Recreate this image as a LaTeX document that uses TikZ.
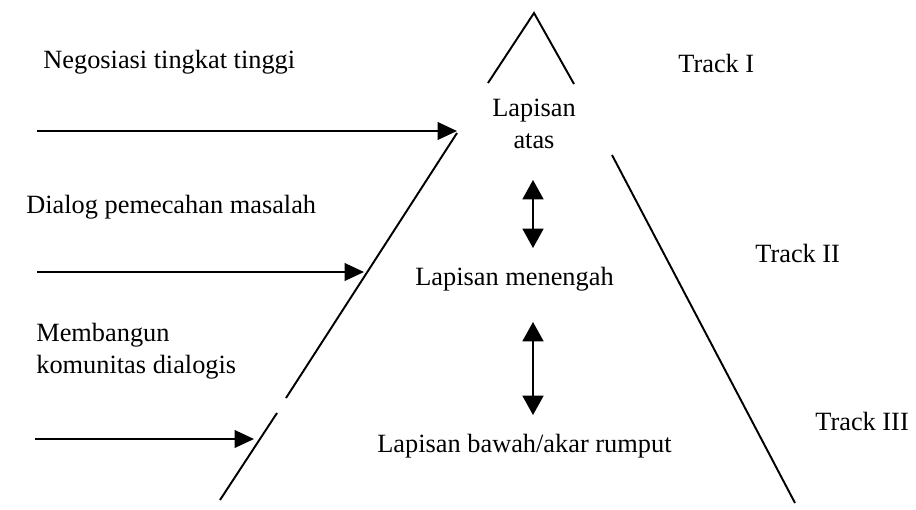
\documentclass[tikz,border=0pt]{standalone}
\usepackage{fontspec}
\setmainfont{Liberation Serif}
\usetikzlibrary{arrows.meta}
\begin{document}
\begin{tikzpicture}[x=0.02cm, y=-0.02cm,
    txt/.style ={inner sep=0pt, font=\fontsize{15}{18}\selectfont},
    side/.style ={line width=1.1pt},
    push/.style ={line width=1.1pt, -{Triangle[length=11pt,width=10pt]}},
    link/.style ={line width=0.7pt, {Triangle[length=11pt,width=12pt]}-{Triangle[length=11pt,width=12pt]}}]
   \useasboundingbox (0,0) rectangle (916,510);
   \coordinate (top) at (534,13);
   \draw[side] (488,83) -- (top) -- (574,84);
   \draw[side] (457,133) -- (286,398);
   \draw[side] (277,413) -- (220,500);
   \draw[side] (612,155) -- (795,503);
   \node[txt, anchor=base west] (neg)  at (43,69)  {Negosiasi tingkat tinggi};
   \node[txt, anchor=base west] (dia)  at (26,213)  {Dialog pemecahan masalah};
   \node[txt, anchor=north west, align=left] (kom)  at (36,323)  {Membangun\\komunitas dialogis};
   \node[txt, anchor=north, align=center] (atas)  at (534,99)  {Lapisan\\atas};
   \node[txt, anchor=base west] (tengah)  at (415,285)  {Lapisan menengah};
   \node[txt, anchor=base west] (bawah)  at (377,452)  {Lapisan bawah/akar rumput};
   \node[txt, anchor=base west] (t1)  at (678,72)  {Track I};
   \node[txt, anchor=base west] (t2)  at (755,262)  {Track II};
   \node[txt, anchor=base west] (t3)  at (815,430)  {Track III};
   \coordinate (a1) at (37,131);
   \coordinate (b1) at (457,131);
   \coordinate (a2) at (37,272);
   \coordinate (b2) at (364,272);
   \coordinate (a3) at (35,439);
   \coordinate (b3) at (254,439);
   \draw[push] (a1) -- (b1);
   \draw[push] (a2) -- (b2);
   \draw[push] (a3) -- (b3);
   \coordinate (u1) at (533,180);
   \coordinate (d1) at (533,248);
   \coordinate (u2) at (533,322);
   \coordinate (d2) at (533,415);
   \draw[link] (u1) -- (d1);
   \draw[link] (u2) -- (d2);
 \end{tikzpicture}
\end{document}
